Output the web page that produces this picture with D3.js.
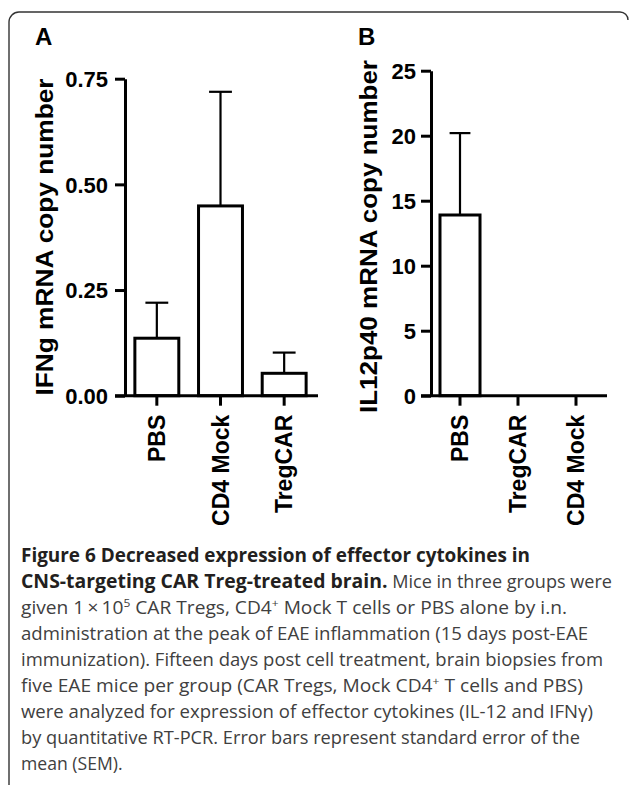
<!DOCTYPE html>
<html>
<head>
<meta charset="utf-8">
<script src="https://cdn.jsdelivr.net/npm/d3@7"></script>
<style>
  html, body { margin: 0; padding: 0; background: #fff; }
  svg { display: block; }
  .ax text { font-family: "Liberation Sans", Arial, sans-serif; font-weight: bold; font-size: 22px; fill: #000; }
  .cap { font-family: "Open Sans", "Noto Sans", sans-serif; font-size: 17.6px; fill: #404040; }
  .capb { font-weight: bold; fill: #231f20; font-size: 18.9px; }
</style>
</head>
<body>
<script>
// ---- data ----
const catsA = ["PBS", "CD4 Mock", "TregCAR"];
const meanA = [0.136, 0.449, 0.053];
const semA  = [0.084, 0.270, 0.049];
const ticksA = [0, 0.25, 0.50, 0.75];

const catsB = ["PBS", "TregCAR", "CD4 Mock"];
const meanB = [13.9, 0, 0];
const semB  = [6.3, 0, 0];
const ticksB = [0, 5, 10, 15, 20, 25];

const titleA = "IFNg mRNA copy number";
const titleB = "IL12p40 mRNA copy number";

const W = 629, H = 785;
const svg = d3.select("body").append("svg").attr("width", W).attr("height", H);

// frame
svg.append("path")
  .attr("d", "M9,785 V22 A10,10 0 0 1 19,12 H620 A8,8 0 0 1 628,20")
  .attr("fill", "none").attr("stroke", "#333").attr("stroke-width", 1.4);

function panel(opt) {
  const g = svg.append("g");
  const y = d3.scaleLinear().domain(opt.domain).range([opt.y0, opt.y1]);
  const x = d3.scaleBand().domain(opt.cats).range([opt.x0, opt.x1])
    .paddingInner(0.31).paddingOuter(0.155);
  const tick = 10;

  const data = opt.cats.map((c, i) => ({c, v: opt.mean[i], e: opt.sem[i]})).filter(d => d.v > 0);
  // error bars
  g.selectAll(".eb").data(data).enter().append("line")
    .attr("x1", d => x(d.c) + x.bandwidth() / 2).attr("x2", d => x(d.c) + x.bandwidth() / 2)
    .attr("y1", d => y(d.v)).attr("y2", d => y(d.v + d.e))
    .attr("stroke", "#000").attr("stroke-width", 2.2);
  g.selectAll(".ec").data(data).enter().append("line")
    .attr("x1", d => x(d.c) + x.bandwidth() * 0.24).attr("x2", d => x(d.c) + x.bandwidth() * 0.76)
    .attr("y1", d => y(d.v + d.e)).attr("y2", d => y(d.v + d.e))
    .attr("stroke", "#000").attr("stroke-width", 2.2);
  // bars
  g.selectAll(".bar").data(data).enter().append("rect")
    .attr("x", d => x(d.c)).attr("width", x.bandwidth())
    .attr("y", d => y(d.v)).attr("height", d => y(0) - y(d.v))
    .attr("fill", "#fff").attr("stroke", "#000").attr("stroke-width", 3);

  // y axis
  const ya = g.append("g").attr("class", "ax").attr("transform", `translate(${opt.x0},0)`)
    .call(d3.axisLeft(y).tickValues(opt.ticks).tickFormat(opt.fmt).tickSize(tick).tickSizeOuter(0).tickPadding(opt.pad));
  ya.select(".domain").attr("stroke-width", 3).attr("stroke", "#000");
  ya.selectAll(".tick line").attr("stroke-width", 3).attr("stroke", "#000");
  ya.selectAll(".tick text").attr("dy", "0.36em");

  // x axis
  const xa = g.append("g").attr("class", "ax").attr("transform", `translate(0,${y(0)})`)
    .call(d3.axisBottom(x).tickSize(tick).tickSizeOuter(0));
  xa.select(".domain").remove();
  xa.append("line").attr("x1", opt.x0 - tick).attr("x2", opt.x1 + 2)
    .attr("y1", 0).attr("y2", 0).attr("stroke", "#000").attr("stroke-width", 3);
  xa.selectAll(".tick line").attr("stroke-width", 3).attr("stroke", "#000");
  xa.selectAll(".tick text")
    .attr("transform", "rotate(-90)")
    .attr("text-anchor", "end")
    .style("font-size", "23px")
    .attr("x", -(tick + 9)).attr("y", 0).attr("dy", "0.36em");

  // y title
  g.append("text")
    .attr("transform", `translate(${opt.tx},${opt.tc}) rotate(-90)`)
    .attr("text-anchor", "middle")
    .attr("textLength", opt.tlen).attr("lengthAdjust", "spacingAndGlyphs")
    .style("font-family", "'Liberation Sans', Arial, sans-serif")
    .style("font-weight", "bold").style("font-size", "24px")
    .text(opt.title);

  // panel letter
  svg.append("text").attr("x", opt.lx).attr("y", 45)
    .style("font-family", "'Liberation Sans', Arial, sans-serif")
    .style("font-weight", "bold").style("font-size", "24px")
    .text(opt.letter);
}

panel({cats: catsA, mean: meanA, sem: semA, ticks: ticksA, domain: [0, 0.75],
  y0: 395.7, y1: 78.7, x0: 125, x1: 316, fmt: d3.format(".2f"), pad: 7,
  title: titleA, tx: 53, tc: 237, tlen: 317, letter: "A", lx: 35});
panel({cats: catsB, mean: meanB, sem: semB, ticks: ticksB, domain: [0, 25],
  y0: 395.7, y1: 70.7, x0: 431, x1: 605, fmt: d3.format("d"), pad: 5,
  title: titleB, tx: 377, tc: 236.5, tlen: 353, letter: "B", lx: 358});

// caption
const capLines = [
  [["b", "Figure 6 Decreased expression of effector cytokines in"]],
  [["b", "CNS-targeting CAR Treg-treated brain."], ["n", " Mice in three groups were"]],
  [["n", "given 1\u2009\u00d7\u200910"], ["sup", "5"], ["n", " CAR Tregs, CD4"], ["sup", "+"], ["n", " Mock T cells or PBS alone by i.n."]],
  [["n", "administration at the peak of EAE inflammation (15 days post-EAE"]],
  [["n", "immunization). Fifteen days post cell treatment, brain biopsies from"]],
  [["n", "five EAE mice per group (CAR Tregs, Mock CD4"], ["sup", "+"], ["n", " T cells and PBS)"]],
  [["n", "were analyzed for expression of effector cytokines (IL-12 and IFN\u03b3)"]],
  [["n", "by quantitative RT-PCR. Error bars represent standard error of the"]],
  [["n", "mean (SEM)."]]
];
// measured line extents of the caption (layout, not data)
const capLen = [509, 591, 546, 567, 582, 562, 572, 559, null];
const capY = d3.scaleLinear().domain([0, 1]).range([562, 588]);
capLines.forEach((parts, i) => {
  const t = svg.append("text").attr("class", "cap").attr("x", 21).attr("y", capY(i));
  if (capLen[i]) t.attr("textLength", capLen[i]).attr("lengthAdjust", "spacingAndGlyphs");
  let raised = false;
  parts.forEach(([k, s]) => {
    const ts = t.append("tspan").text(s);
    if (k === "b") ts.attr("class", "capb");
    if (k === "sup") { ts.attr("dy", -7).style("font-size", "11px"); raised = true; }
    else if (raised) { ts.attr("dy", 7); raised = false; }
  });
});
</script>
</body>
</html>
